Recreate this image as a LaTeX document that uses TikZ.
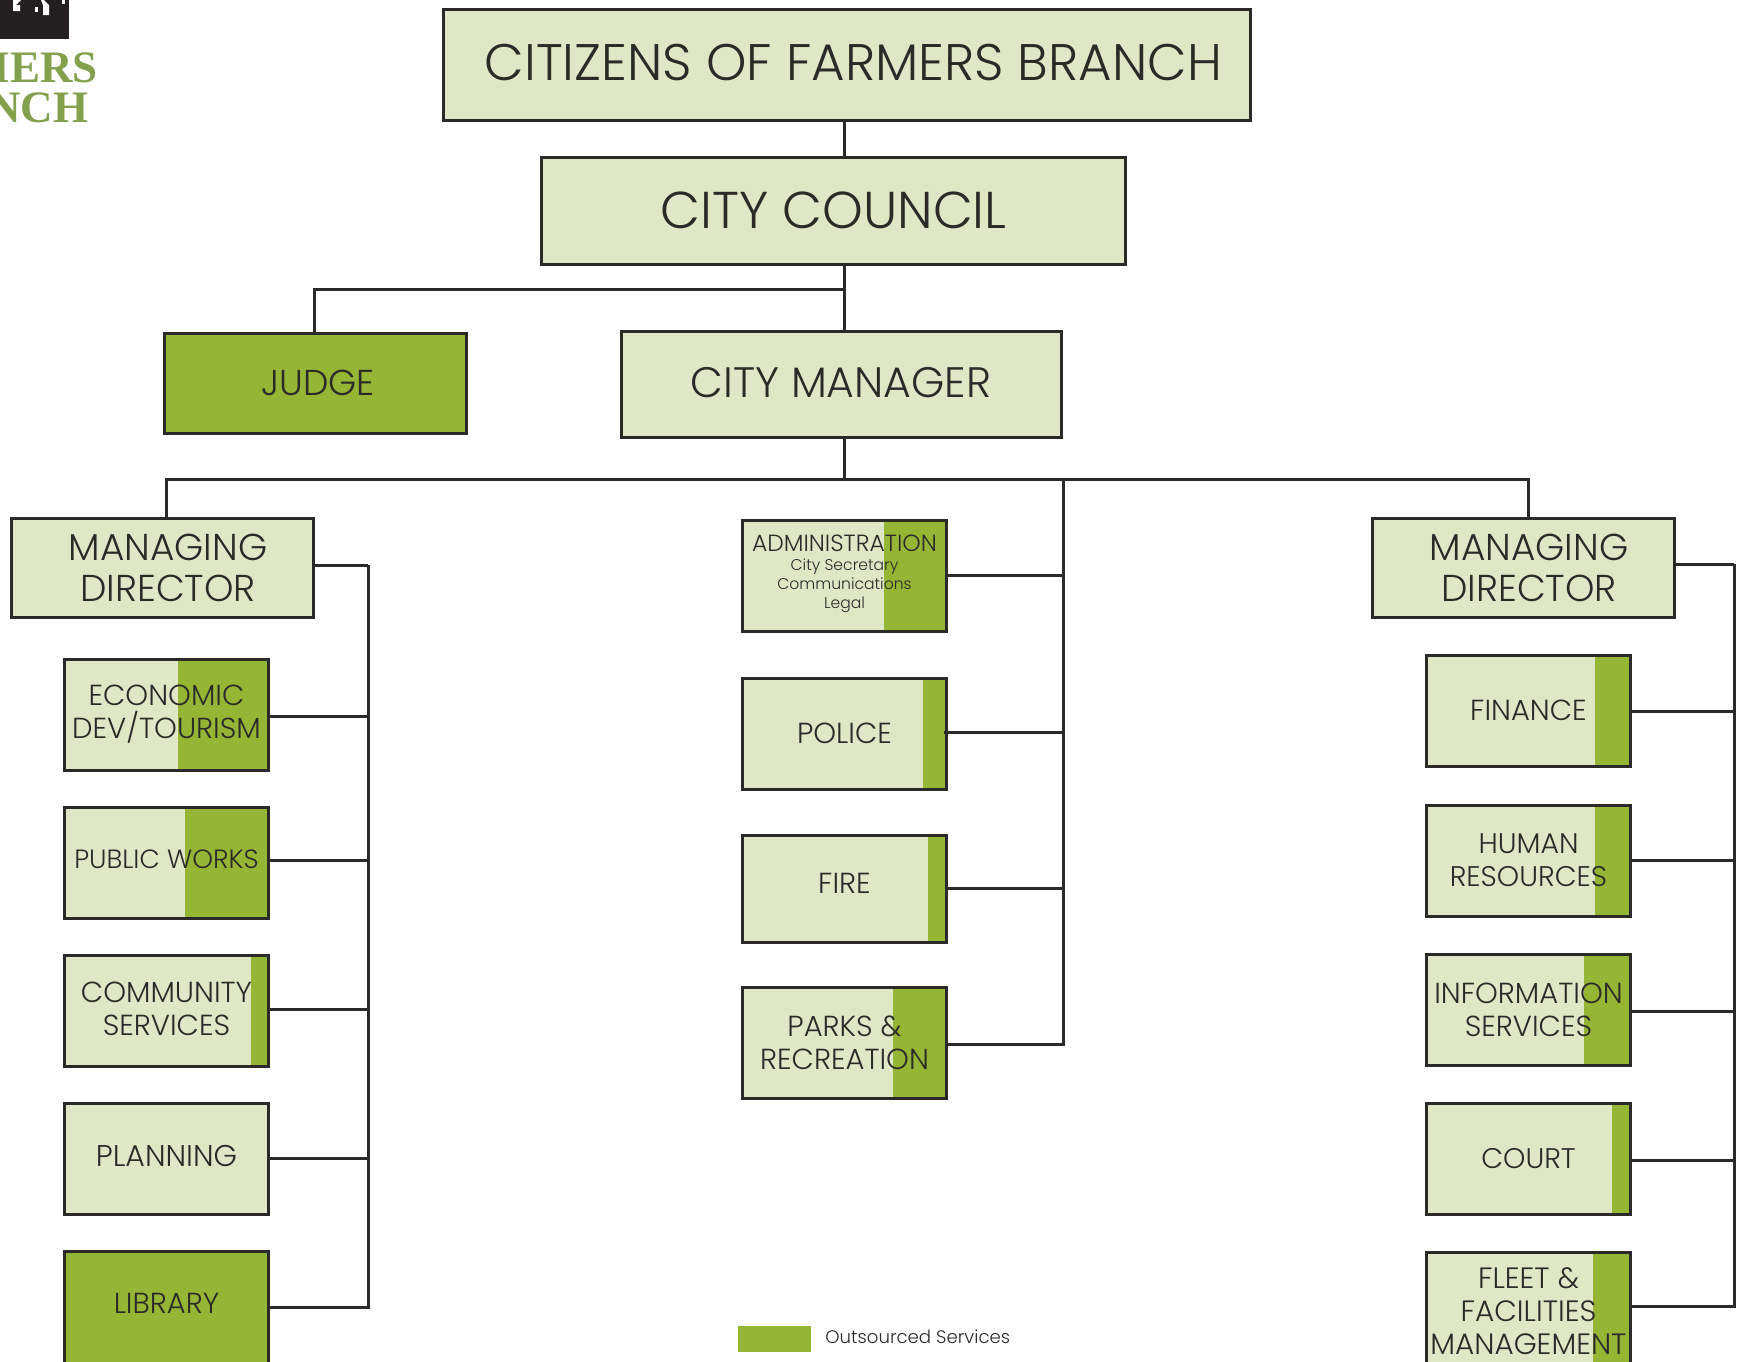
\documentclass[tikz,border=0pt]{standalone}
\usepackage{fontspec}
\setmainfont{Poppins Light}
\newfontfamily\logofont{Liberation Serif}
\usepackage{tikz}

\begin{document}
\begin{tikzpicture}[x=0.5pt,y=-0.5pt]
	
	\definecolor{palegreen}{HTML}{DFE7C6}
	\definecolor{outgreen}{HTML}{95B535}
	\definecolor{logogreen}{HTML}{83A14D}
	\definecolor{inkgray}{HTML}{2B2A29}
	\definecolor{logoblack}{HTML}{231F20}
	
	\tikzset{box/.style = {shape=rectangle,draw=inkgray,line width=1.5pt,fill=palegreen,text=inkgray,align=center,inner sep=0pt,font=\fontsize{14.5}{16.5}\selectfont}}
	\tikzset{dept/.style = {box,minimum width=102pt,minimum height=55.5pt}}
	\tikzset{head/.style = {box,minimum width=151pt,minimum height=49.5pt,font=\fontsize{18.7}{20.5}\selectfont}}
	\tikzset{strip/.style = {path picture={\fill[outgreen] ([xshift=-#1*0.5pt]path picture bounding box.north east) rectangle (path picture bounding box.south east);}}}
	\tikzset{lift/.style = {text depth=#1*1pt}}
	\tikzset{sized/.style = {font=\fontsize{#1}{16.5}\selectfont}}
	\tikzset{edge/.style = {draw=inkgray,line width=1.5pt}}
	
	\useasboundingbox (0,0) rectangle (1741,1361);
	\clip (0,0) rectangle (1741,1361);
	
	% logo
	\fill[logoblack] (0,0) rectangle (69,39);
	\fill[white] (13,0) -- (13,11) -- (20,11) -- (20,5) -- (16,5) -- (21,0) -- cycle;
	\fill[white] (35,7) rectangle (38,12);
	\fill[white] (41,0) -- (43,5) -- (43,15) -- (49,15) -- (49,5) -- (44,0) -- cycle;
	\fill[white] (62,0) rectangle (65,4);
	\node[anchor=east,text=logogreen,inner sep=0pt,font=\logofont\bfseries\fontsize{22.5}{24}\selectfont] (logo1) at (98,68) {MERS};
	\node[anchor=east,text=logogreen,inner sep=0pt,font=\logofont\bfseries\fontsize{22.5}{24}\selectfont] (logo2) at (88.5,108) {NCH};
	
	% top of the tree
	\node[box,minimum width=403.5pt,minimum height=55.5pt,font=\fontsize{25.7}{30}\selectfont,lift=2] (citizens) at (846.5,64.5) {\hspace*{7pt}CITIZENS OF FARMERS BRANCH};
	\node[box,minimum width=292pt,minimum height=53.5pt,font=\fontsize{25.9}{30}\selectfont] (council) at (833.5,210.5) {CITY COUNCIL};
	\node[box,fill=outgreen,minimum width=151pt,minimum height=50pt,font=\fontsize{18}{20.5}\selectfont] (judge) at (315,383) {\hspace*{3pt}JUDGE};
	\node[box,minimum width=220pt,minimum height=53pt,font=\fontsize{21.3}{24}\selectfont,lift=2] (manager) at (841,384) {CITY MANAGER};
	
	\node[head] (mdleft) at (162,568) {\hspace*{6pt}MANAGING\\\hspace*{6pt}DIRECTOR};
	\node[head] (mdright) at (1523,568) {\hspace*{6pt}MANAGING\\\hspace*{6pt}DIRECTOR};
	
	% left column
	\node[dept,strip=91,lift=3] (econ) at (166.5,715) {ECONOMIC\\DEV/TOURISM};
	\node[dept,strip=84,sized=13.2,lift=4] (works) at (166.5,863) {PUBLIC WORKS};
	\node[dept,strip=18,lift=2] (community) at (166.5,1011) {COMMUNITY\\SERVICES};
	\node[dept,sized=15,lift=3] (planning) at (166.5,1159) {PLANNING};
	\node[dept,fill=outgreen,minimum height=59pt,lift=7] (library) at (166.5,1310) {LIBRARY};
	
	% middle column
	\node[dept,strip=63,font=\fontsize{11.7}{9.6}\selectfont] (admin) at (844.5,576) {ADMINISTRATION\\{\fontsize{7.8}{9.6}\selectfont City Secretary}\\{\fontsize{7.8}{9.6}\selectfont Communications}\\{\fontsize{7.8}{9.6}\selectfont Legal}\\[-5.5pt]\mbox{}};
	\node[dept,strip=24] (police) at (844.5,733.5) {POLICE};
	\node[dept,strip=19,minimum height=53.5pt,lift=5] (fire) at (844.5,888.5) {FIRE};
	\node[dept,strip=54] (parks) at (844.5,1043) {PARKS \&\\RECREATION};
	
	% right column
	\node[dept,strip=36] (finance) at (1528.5,710.5) {FINANCE};
	\node[dept,strip=36,sized=14.2] (hr) at (1528.5,860.5) {HUMAN\\RESOURCES};
	\node[dept,strip=47] (info) at (1528.5,1010) {INFORMATION\\SERVICES};
	\node[dept,strip=19,sized=14.2] (court) at (1528.5,1159) {COURT};
	\node[dept,strip=38,sized=14.7,minimum height=59pt] (fleet) at (1528.5,1311) {FLEET \&\\FACILITIES\\MANAGEMENT};
	
	% legend
	\node[shape=rectangle,fill=outgreen,inner sep=0pt,minimum width=36.5pt,minimum height=13pt] (legendkey) at (774.5,1339) {};
	\node[anchor=west,text=inkgray,inner sep=0pt,font=\fontsize{9.07}{12}\selectfont] (legendtext) at (825,1337) {Outsourced Services};
	
	% bus and trunks
	\coordinate (busmid) at (844,479);
	\coordinate (bustrunk) at (1063,479);
	\coordinate (judgeknee) at (844,289);
	\coordinate (leftbus) at (368,565);
	\coordinate (rightbus) at (1734,564);
	
	\draw[edge] (citizens.south -| busmid) to (council.north -| busmid);
	\draw[edge] (council.south -| busmid) to (manager.north -| busmid);
	\draw[edge] (judgeknee) -| (judge.north -| 314,0);
	\draw[edge] (manager.south -| busmid) to (busmid);
	\draw[edge] (mdleft.north -| 166,0) |- (busmid);
	\draw[edge] (busmid) -| (mdright.north -| 1528,0);
	
	\draw[edge] (bustrunk) |- (parks.east |- 0,1044);
	\draw[edge] (admin.east |- 0,575) to (bustrunk |- 0,575);
	\draw[edge] ([xshift=-2pt]police.east |- 0,732) to (bustrunk |- 0,732);
	\draw[edge] (fire.east |- 0,888) to (bustrunk |- 0,888);
	
	\draw[edge] (mdleft.east |- leftbus) to (leftbus);
	\draw[edge] (leftbus) |- (library.east |- 0,1307);
	\draw[edge] (econ.east |- 0,716) to (leftbus |- 0,716);
	\draw[edge] (works.east |- 0,860) to (leftbus |- 0,860);
	\draw[edge] (community.east |- 0,1009) to (leftbus |- 0,1009);
	\draw[edge] (planning.east |- 0,1158) to (leftbus |- 0,1158);
	
	\draw[edge] (mdright.east |- rightbus) to (rightbus);
	\draw[edge] (rightbus) |- (fleet.east |- 0,1306);
	\draw[edge] (finance.east |- 0,711) to (rightbus |- 0,711);
	\draw[edge] (hr.east |- 0,860) to (rightbus |- 0,860);
	\draw[edge] (info.east |- 0,1011) to (rightbus |- 0,1011);
	\draw[edge] (court.east |- 0,1160) to (rightbus |- 0,1160);
	\end{tikzpicture}
\end{document}
